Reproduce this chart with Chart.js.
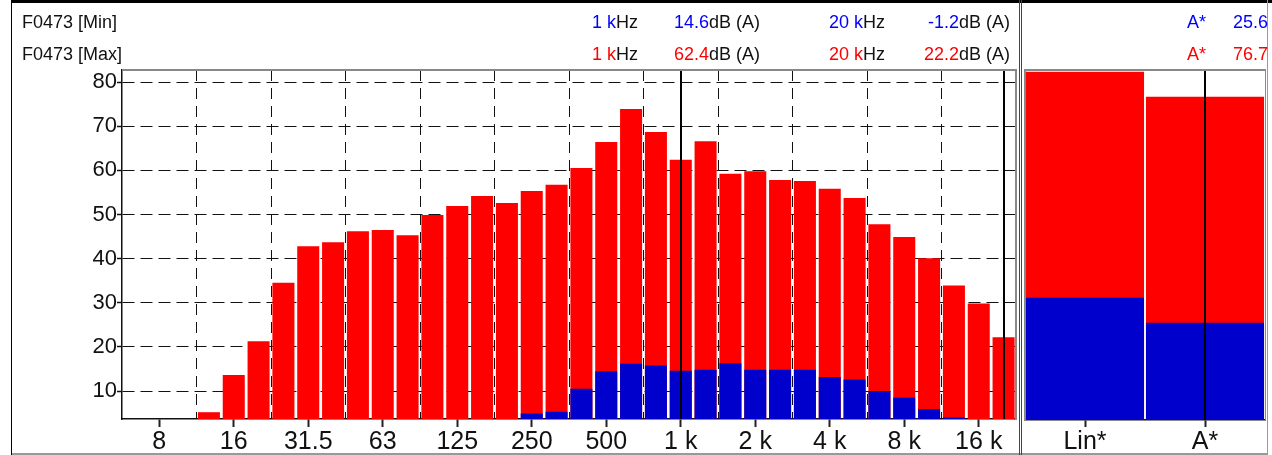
<!DOCTYPE html>
<html>
<head>
<meta charset="utf-8">
<script src="https://cdn.jsdelivr.net/npm/chart.js@4.4.1/dist/chart.umd.min.js"></script>
<style>
html,body{margin:0;padding:0;background:#fff;}
#wrap{position:relative;width:1272px;height:455px;overflow:hidden;font-family:"Liberation Sans",Arial,sans-serif;background:#fff;}
canvas{position:absolute;top:0;}
.ln{position:absolute;}
.t{position:absolute;font-size:18px;line-height:20px;white-space:nowrap;color:#111;}
.r{text-align:right;}
.blue{color:#0000ff;}
.red{color:#ff0000;}
</style>
</head>
<body>
<div id="wrap">
  <canvas id="main" width="1019" height="455" style="left:0;width:1019px;height:455px;"></canvas>
  <canvas id="sum" width="250" height="455" style="left:1022px;width:250px;height:455px;"></canvas>

  <!-- frame lines -->
  <div class="ln" style="left:12px;top:0;width:1260px;height:3px;background:#000;"></div>
  <div class="ln" style="left:11px;top:0;width:1px;height:455px;background:#000;"></div>
  <div class="ln" style="left:12px;top:453px;width:1256px;height:2px;background:#999;"></div>
  <div class="ln" style="left:1267px;top:0;width:1px;height:455px;background:#999;"></div>
  <div class="ln" style="left:1019px;top:0;width:1px;height:455px;background:#444;"></div>
  <div class="ln" style="left:1021px;top:0;width:1px;height:455px;background:#444;"></div>
  <div class="ln" style="left:122px;top:69px;width:895px;height:2px;background:#888;"></div>
  <div class="ln" style="left:1015px;top:69px;width:2px;height:351px;background:#888;"></div>
  <div class="ln" style="left:1025px;top:69px;width:241px;height:2px;background:#888;"></div>
  <div class="ln" style="left:1024px;top:69px;width:2px;height:352px;background:#888;"></div>
  <div class="ln" style="left:1265px;top:69px;width:1px;height:352px;background:#888;"></div>

  <div id="hdr"></div>
</div>
<script>
// ---------------- data ----------------
const bands = ['6.3','8','10','12.5','16','20','25','31.5','40','50','63','80','100','125','160','200','250','315','400','500','630','800','1k','1.25k','1.6k','2k','2.5k','3.15k','4k','5k','6.3k','8k','10k','12.5k','16k','20k'];
const maxLevels = [null,null,null,5.2,13.6,21.3,34.5,42.8,43.7,46.2,46.5,45.3,49.9,51.9,54.2,52.6,55.3,56.7,60.5,66.4,73.9,68.7,62.4,66.6,59.2,59.8,57.8,57.6,55.8,53.7,47.8,44.9,40.1,33.9,29.8,22.2];
const minLevels = [null,null,null,null,null,null,null,null,null,null,null,null,null,null,null,null,4.9,5.3,10.5,14.5,16.2,15.8,14.6,14.8,16.3,14.8,14.8,14.8,13.2,12.6,10.0,8.5,5.9,4.0,null,-1.2];
const tickBands = ['8','16','31.5','63','125','250','500','1k','2k','4k','8k','16k'];
const tickLabels = ['8','16','31.5','63','125','250','500','1 k','2 k','4 k','8 k','16 k'];
const yTicks = [10,20,30,40,50,60,70,80];
const yMin = 3.66, yMax = 82.72;
const cursorBands = ['1k','20k'];

const sumBands = ['Lin*','A*'];
const sumMax = [82.3, 76.7];
const sumMin = [31.3, 25.6];
const sumCursor = ['A*'];

const rowNames = ['F0473 [Min]','F0473 [Max]'];
const rowColors = ['blue','red'];
const cursorFreqs = ['1 k','20 k'];
const cursorMin = ['14.6','-1.2'];
const cursorMax = ['62.4','22.2'];
const sumLabel = 'A*';
const sumReadMin = '25.6';
const sumReadMax = '76.7';

const RED = '#ff0000', BLUE = '#0000cc';

// ---------------- header text ----------------
(function(){
  const h = document.getElementById('hdr');
  const rowsVals = [cursorMin, cursorMax];
  const sumVals = [sumReadMin, sumReadMax];
  const tops = [12, 44];
  let html = '';
  for (let r = 0; r < 2; r++) {
    const c = rowColors[r], top = tops[r];
    html += `<div class="t" style="left:22px;top:${top}px;">${rowNames[r]}</div>`;
    html += `<div class="t r" style="right:634px;top:${top}px;"><span class="${c}">${cursorFreqs[0]}</span>Hz</div>`;
    html += `<div class="t r" style="right:512px;top:${top}px;"><span class="${c}">${rowsVals[r][0]}</span>dB (A)</div>`;
    html += `<div class="t r" style="right:387px;top:${top}px;"><span class="${c}">${cursorFreqs[1]}</span>Hz</div>`;
    html += `<div class="t r" style="right:262px;top:${top}px;"><span class="${c}">${rowsVals[r][1]}</span>dB (A)</div>`;
    html += `<div class="t r ${c}" style="right:66px;top:${top}px;">${sumLabel}</div>`;
    html += `<div class="t r ${c}" style="right:4px;top:${top}px;">${sumVals[r]}</div>`;
  }
  h.innerHTML = html;
})();

// ---------------- charts ----------------
Chart.defaults.font.family = "'Liberation Sans', Arial, sans-serif";
Chart.defaults.color = '#111';

const cursorPlugin = {
  id: 'cursors',
  afterDatasetsDraw(chart, args, opts) {
    const xs = chart.scales.x, a = chart.chartArea, ctx = chart.ctx;
    const labels = xs.getLabels();
    ctx.save();
    ctx.strokeStyle = '#000';
    ctx.lineWidth = 2;
    (opts.bands || []).forEach(b => {
      const px = Math.round(xs.getPixelForValue(labels.indexOf(b)));
      ctx.beginPath();
      ctx.moveTo(px, a.top);
      ctx.lineTo(px, a.bottom);
      ctx.stroke();
    });
    ctx.restore();
  }
};

const labelFor = (i) => {
  const k = tickBands.indexOf(bands[i]);
  return k >= 0 ? tickLabels[k] : '';
};

new Chart(document.getElementById('main'), {
  type: 'bar',
  data: {
    labels: bands,
    datasets: [
      { label: 'Min', data: minLevels, backgroundColor: BLUE, grouped: false, order: 0, clip: 0,
        barPercentage: 0.887, categoryPercentage: 1.0 },
      { label: 'Max', data: maxLevels, backgroundColor: RED, grouped: false, order: 1, clip: 0,
        barPercentage: 0.887, categoryPercentage: 1.0 }
    ]
  },
  options: {
    responsive: false,
    animation: false,
    devicePixelRatio: 1,
    layout: { padding: { top: 70, right: 3, left: 0, bottom: 0 } },
    plugins: { legend: { display: false }, tooltip: { enabled: false }, cursors: { bands: cursorBands } },
    scales: {
      x: {
        type: 'category',
        position: 'bottom',
        offset: true,
        afterFit: s => { s.height = 36; },
        grid: {
          offset: false, drawOnChartArea: false, drawTicks: true, tickLength: 8, tickWidth: 2,
          tickColor: ctx => labelFor(ctx.index) ? '#222' : 'rgba(0,0,0,0)'
        },
        border: { display: true, color: '#111', width: 1.5 },
        ticks: {
          autoSkip: false, maxRotation: 0, minRotation: 0, padding: 0,
          font: { size: 25 }, color: '#111',
          callback: (v, i) => labelFor(i)
        }
      },
      xg: {
        type: 'category',
        position: 'bottom',
        offset: true,
        z: 1,
        afterFit: s => { s.height = 0; },
        grid: {
          offset: true, drawTicks: false, lineWidth: 1,
          color: ctx => (ctx.index % 3 === 0) ? '#111' : 'rgba(0,0,0,0)'
        },
        border: { display: false, dash: [11, 7] },
        ticks: { display: false }
      },
      y: {
        type: 'linear',
        min: yMin, max: yMax,
        z: 1,
        afterBuildTicks: s => { s.ticks = yTicks.map(v => ({ value: v })); },
        afterFit: s => { s.width = 122; },
        grid: { color: '#111', lineWidth: 1, drawTicks: true, tickLength: 5, tickColor: '#111', tickWidth: 1.5 },
        border: { display: true, color: '#111', width: 1.5, dash: [12, 6] },
        ticks: { padding: 0, font: { size: 22 }, color: '#111' }
      }
    }
  },
  plugins: [cursorPlugin]
});

new Chart(document.getElementById('sum'), {
  type: 'bar',
  data: {
    labels: sumBands,
    datasets: [
      { label: 'Min', data: sumMin, backgroundColor: BLUE, grouped: false, order: 0, clip: 0,
        barPercentage: 0.984, categoryPercentage: 1.0 },
      { label: 'Max', data: sumMax, backgroundColor: RED, grouped: false, order: 1, clip: 0,
        barPercentage: 0.984, categoryPercentage: 1.0 }
    ]
  },
  options: {
    responsive: false,
    animation: false,
    devicePixelRatio: 1,
    layout: { padding: { top: 70, right: 7, left: 3, bottom: 0 } },
    plugins: { legend: { display: false }, tooltip: { enabled: false }, cursors: { bands: sumCursor } },
    scales: {
      x: {
        type: 'category',
        offset: true,
        afterFit: s => { s.height = 35; },
        grid: { offset: false, drawOnChartArea: false, drawTicks: true, tickLength: 7, tickWidth: 2, tickColor: '#222' },
        border: { display: true, color: '#111', width: 1.5 },
        ticks: { autoSkip: false, maxRotation: 0, padding: 0, font: { size: 25 }, color: '#111' }
      },
      y: {
        type: 'linear', min: yMin, max: yMax, display: false
      }
    }
  },
  plugins: [cursorPlugin]
});
</script>
</body>
</html>
